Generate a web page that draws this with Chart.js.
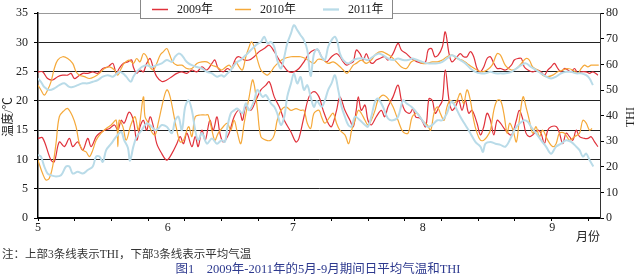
<!DOCTYPE html>
<html>
<head>
<meta charset="utf-8">
<script src="https://cdn.jsdelivr.net/npm/chart.js@4.4.1/dist/chart.umd.min.js"></script>
<style>
  html, body { margin: 0; padding: 0; background: #fff; }
  #wrap { width: 640px; height: 278px; }
</style>
</head>
<body>
<div id="wrap"><canvas id="myChart" width="640" height="278"></canvas></div>
<script>
// day index counted from 1 May, [day, value]
const monthStarts = [0, 31, 61, 92, 123];
const monthLabels = ['5', '6', '7', '8', '9'];
const yearLabels = ['2009年', '2010年', '2011年'];

const temp2009 = [[0,13.6],[1.1,13.7],[3.1,9.9],[3.9,9.6],[5.1,13.0],[6.3,12.2],[7.5,13.6],[8.3,12.2],[9.5,13.0],[10.7,11.6],[11.9,13.6],[12.7,12.2],[13.9,13.9],[14.7,14.5],[15.9,15.0],[17.1,15.3],[18.3,15.9],[19.1,15.0],[19.9,16.7],[20.6,16.2],[21.8,18.1],[22.8,16.7],[23.6,13.3],[24.4,15.6],[25.2,16.7],[26.0,15.0],[26.8,17.3],[27.6,15.6],[28.4,12.7],[29.6,11.0],[30.8,9.9],[32.0,11.0],[33.2,12.7],[34.0,13.9],[34.8,12.7],[35.6,14.5],[36.8,12.2],[37.6,13.9],[38.3,12.2],[39.2,15.0],[40.0,13.3],[41.1,16.7],[41.9,15.0],[42.8,17.3],[43.5,14.5],[44.3,13.0],[45.7,14.5],[46.9,17.3],[48.1,18.4],[48.9,16.7],[49.7,19.0],[50.9,18.4],[52.1,20.1],[53.3,21.9],[54.5,22.7],[55.3,23.3],[56.5,20.7],[57.7,19.0],[58.9,16.7],[60.5,14.7],[61.7,13.0],[62.4,13.6],[63.6,17.3],[64.8,20.7],[66.0,21.6],[67.2,20.7],[68.2,18.4],[69.4,16.2],[70.2,15.6],[71.4,18.4],[72.2,20.7],[73.4,18.4],[74.6,16.7],[75.4,15.6],[76.1,18.4],[76.6,20.7],[77.3,18.4],[78.2,19.3],[78.9,16.7],[79.7,15.9],[80.9,17.3],[82.1,18.4],[82.9,17.3],[83.7,19.0],[84.9,20.7],[86.1,22.7],[86.9,20.1],[87.7,18.4],[88.9,17.9],[89.7,18.7],[90.3,17.3],[91.5,17.0],[92.7,15.6],[93.5,20.4],[94.3,20.1],[95.0,17.9],[95.9,19.0],[96.7,20.1],[97.4,25.3],[98.3,20.1],[99.0,18.4],[99.8,19.0],[100.6,20.1],[101.4,18.4],[102.2,20.1],[103.0,17.9],[103.8,18.4],[105.0,16.2],[105.8,14.2],[106.6,15.6],[107.4,17.9],[108.2,16.7],[109.0,14.2],[109.8,16.7],[110.6,16.2],[111.8,15.0],[113.2,14.2],[114.4,16.7],[115.1,18.4],[116.0,16.7],[116.7,14.5],[117.5,13.9],[118.3,14.2],[119.5,15.0],[120.3,14.5],[121.1,12.7],[121.9,15.0],[122.7,15.6],[124.0,15.6],[124.7,14.5],[125.5,12.7],[126.3,14.5],[127.1,13.9],[127.9,13.3],[128.7,15.0],[129.5,13.9],[130.7,13.6],[131.5,13.6],[132.3,13.9],[133.1,13.0],[133.9,12.2]];

const temp2010 = [[0,9.9],[1.1,7.6],[1.9,6.5],[2.7,6.8],[3.5,8.8],[4.3,12.7],[5.1,17.3],[6.3,18.4],[7.1,18.7],[8.3,17.3],[9.1,15.6],[9.9,12.7],[10.7,11.6],[11.5,11.3],[12.3,10.5],[13.1,11.6],[13.9,13.3],[15.1,14.5],[16.3,15.3],[17.5,15.9],[18.7,16.7],[19.1,12.2],[19.4,16.7],[20.3,15.6],[21.1,13.3],[22.2,15.9],[23.2,17.3],[24.0,15.0],[25.2,20.7],[25.6,17.3],[26.4,16.2],[27.2,14.7],[28.0,14.2],[28.8,16.4],[29.6,19.0],[30.4,21.3],[30.9,21.9],[31.6,20.7],[32.4,17.9],[33.2,15.0],[34.0,13.0],[34.8,13.3],[36.0,15.6],[36.8,13.9],[37.6,17.3],[38.8,17.6],[40.0,17.6],[40.7,17.6],[41.6,15.0],[42.3,13.3],[43.1,14.5],[44.3,15.6],[45.3,16.2],[46.1,15.0],[46.9,16.7],[47.7,14.5],[48.5,12.7],[49.3,16.2],[50.5,20.7],[51.3,23.6],[51.8,22.4],[52.5,18.4],[53.3,13.9],[54.5,13.3],[55.7,13.3],[56.5,14.2],[57.2,16.7],[58.1,18.4],[59.3,19.0],[60.5,18.4],[61.7,18.7],[62.8,18.4],[63.6,18.4],[64.4,16.2],[65.2,15.3],[66.0,17.9],[67.2,18.4],[67.8,17.3],[68.6,16.2],[69.8,17.3],[70.6,17.9],[71.4,16.2],[72.2,15.0],[73.4,14.2],[74.3,12.7],[75.0,15.0],[75.8,16.7],[76.6,18.4],[77.3,17.9],[78.2,16.7],[78.9,15.9],[79.7,16.7],[80.6,18.4],[81.3,20.1],[82.5,21.0],[83.7,20.4],[84.9,19.0],[86.1,16.7],[87.3,14.7],[88.5,14.5],[89.5,17.3],[90.7,17.9],[91.9,16.7],[93.1,15.9],[93.9,15.0],[94.7,17.9],[95.5,19.0],[96.2,17.9],[97.1,16.7],[97.8,19.0],[98.6,20.1],[99.4,19.6],[100.2,20.1],[101.0,21.3],[101.8,19.6],[102.6,21.9],[103.4,20.1],[104.2,16.7],[105.0,14.5],[105.8,13.3],[106.6,13.3],[107.4,13.9],[108.2,15.0],[109.0,18.4],[109.8,20.1],[110.6,20.1],[111.4,17.9],[112.2,14.5],[112.8,16.2],[113.6,15.0],[114.4,13.0],[115.1,16.7],[116.0,20.7],[116.7,19.0],[117.5,16.7],[118.3,14.5],[119.1,15.6],[119.9,13.9],[120.7,15.0],[121.9,13.3],[123.1,12.2],[123.9,12.7],[124.7,14.5],[125.9,14.5],[127.1,13.3],[128.3,13.9],[129.5,14.5],[130.3,16.7],[131.1,16.2],[131.9,15.0],[132.5,15.3]];

const temp2011 = [[0,10.8],[0.7,10.5],[1.5,8.8],[2.3,7.6],[3.1,7.3],[4.3,7.1],[5.5,7.3],[6.7,8.8],[7.5,8.8],[8.3,7.6],[9.5,7.9],[10.7,7.6],[11.9,8.2],[13.1,8.8],[13.9,10.5],[14.7,10.5],[15.5,9.6],[16.3,11.6],[17.5,12.7],[18.7,13.9],[19.9,14.7],[20.6,13.3],[21.5,12.0],[22.0,9.8],[22.8,12.2],[23.6,13.9],[24.8,15.0],[26.0,16.2],[27.2,15.6],[28.0,15.0],[28.8,15.3],[29.6,15.9],[30.8,15.6],[32.0,14.5],[32.8,16.7],[33.6,17.3],[34.4,15.0],[35.2,19.0],[36.0,20.1],[36.8,18.4],[37.6,15.0],[38.3,13.3],[39.2,14.5],[40.4,12.7],[41.6,13.6],[42.8,12.7],[43.9,13.3],[44.7,13.0],[45.3,15.6],[46.1,17.9],[46.9,18.4],[47.7,18.7],[48.9,17.9],[49.7,19.6],[50.5,18.4],[51.7,20.1],[52.5,21.9],[53.7,20.7],[54.5,21.0],[55.7,19.6],[56.5,19.0],[57.2,17.9],[58.1,15.9],[58.9,17.3],[59.6,20.7],[60.5,23.0],[61.2,24.7],[62.0,23.0],[62.8,24.1],[63.6,21.9],[64.4,22.7],[65.2,20.7],[66.0,19.0],[66.7,20.0],[67.8,19.0],[68.6,20.1],[69.4,21.9],[70.2,23.0],[71.0,24.4],[71.8,21.9],[72.6,19.0],[73.4,17.3],[74.2,15.9],[75.0,15.6],[75.8,17.3],[77.0,16.7],[78.2,15.9],[78.9,15.6],[79.7,17.3],[80.6,19.9],[81.3,20.4],[82.5,19.0],[83.7,17.0],[84.9,16.7],[86.1,17.3],[87.3,20.1],[88.1,19.6],[89.3,19.0],[90.7,17.9],[91.9,16.7],[93.1,15.6],[94.3,15.9],[95.5,16.7],[96.7,16.7],[97.8,17.9],[98.9,19.9],[99.8,19.0],[101.0,17.3],[102.2,15.9],[103.4,14.5],[104.6,13.0],[105.8,12.2],[106.4,11.3],[107.0,12.7],[108.2,13.0],[109.4,12.7],[110.6,12.5],[111.8,12.2],[113.2,13.9],[113.9,15.0],[114.8,15.9],[115.6,16.4],[116.3,16.7],[117.2,16.4],[117.9,15.6],[119.1,14.5],[120.3,13.3],[121.5,12.2],[122.7,11.0],[123.9,12.2],[125.1,12.7],[126.3,13.3],[127.5,13.0],[128.7,12.2],[129.5,11.6],[130.3,10.5],[131.1,11.0],[131.9,9.9],[132.8,8.8]];

const thi2009 = [[0,57.1],[1.1,57.1],[2.3,54.5],[3.5,53.9],[4.7,55.2],[5.9,55.8],[7.1,55.8],[7.9,56.5],[8.7,54.5],[9.5,55.2],[10.7,56.5],[11.9,56.5],[13.1,57.1],[14.3,56.5],[15.5,58.4],[16.7,59.0],[17.9,60.4],[18.7,56.5],[19.4,58.4],[20.4,60.4],[21.5,61.0],[22.4,61.7],[22.8,59.0],[23.6,56.5],[24.4,57.8],[25.2,57.1],[26.0,60.4],[26.8,62.3],[27.6,58.4],[28.4,55.2],[29.6,53.3],[30.8,53.9],[32.0,55.2],[33.2,56.5],[34.4,57.1],[35.6,56.5],[36.8,57.8],[38.0,57.1],[39.2,59.0],[40.4,57.8],[41.6,60.4],[42.3,61.7],[43.1,58.4],[44.3,57.1],[45.3,58.4],[46.1,57.8],[47.3,62.3],[48.1,63.0],[49.3,61.7],[50.5,61.7],[51.7,63.0],[52.9,65.0],[54.1,66.2],[55.3,67.5],[56.5,65.0],[57.7,61.7],[58.9,59.0],[60.0,57.1],[61.2,57.1],[62.4,58.4],[63.6,61.0],[64.8,64.2],[66.0,65.6],[67.0,65.6],[67.8,63.0],[69.0,61.0],[70.2,63.0],[71.4,64.2],[72.2,63.0],[73.0,61.0],[73.8,59.7],[74.6,60.4],[75.4,61.0],[76.1,65.6],[77.0,64.2],[77.8,61.7],[78.5,64.2],[79.4,61.0],[80.1,60.4],[80.9,61.7],[81.7,62.3],[82.9,63.0],[83.7,61.7],[84.9,64.2],[86.1,68.2],[86.9,65.6],[88.1,64.2],[89.3,62.3],[90.7,61.0],[91.9,60.4],[92.7,61.0],[93.3,65.6],[94.1,66.2],[94.9,63.0],[95.7,63.6],[96.7,66.9],[97.4,72.7],[98.3,64.2],[99.0,61.0],[100.2,63.0],[101.0,64.2],[101.8,63.0],[102.6,63.0],[103.4,65.0],[104.2,63.0],[105.0,58.4],[105.8,57.1],[106.6,59.0],[107.4,62.3],[108.2,63.0],[109.0,60.4],[109.8,58.4],[110.6,58.4],[111.8,57.8],[113.2,59.7],[113.9,61.7],[114.8,62.3],[115.6,62.3],[116.3,59.0],[117.2,57.8],[118.3,57.1],[119.5,57.8],[120.3,57.1],[121.1,55.8],[121.9,57.8],[122.7,59.0],[123.5,60.4],[124.3,58.4],[125.1,57.1],[125.9,58.4],[126.7,57.8],[127.5,57.1],[128.3,58.4],[129.1,56.5],[129.9,57.1],[131.1,57.1],[131.9,56.5],[132.7,57.1],[133.9,55.8]];

const thi2010 = [[0,51.9],[0.7,50.0],[1.5,48.0],[2.3,50.0],[3.1,53.2],[3.9,58.4],[4.7,61.7],[5.9,63.0],[7.1,62.3],[8.3,60.4],[9.1,57.1],[9.9,55.8],[11.1,55.2],[12.3,54.5],[13.5,55.2],[14.7,56.5],[15.9,58.4],[17.1,59.0],[18.3,57.8],[19.1,55.8],[19.9,58.4],[20.6,60.4],[21.8,61.7],[22.8,60.4],[23.6,62.3],[24.4,61.0],[25.2,64.2],[26.0,63.0],[26.8,59.0],[27.6,57.8],[28.4,60.4],[29.2,63.6],[30.0,65.0],[30.8,66.2],[31.4,64.2],[32.2,61.0],[33.2,59.7],[34.4,59.7],[35.6,58.4],[36.8,58.4],[38.0,60.4],[39.2,61.0],[40.4,61.0],[41.6,59.7],[42.8,59.0],[43.9,57.8],[44.5,58.4],[45.7,59.7],[46.5,58.4],[47.3,61.0],[48.1,59.0],[48.9,57.8],[49.7,63.0],[50.5,66.9],[51.0,68.8],[51.7,66.9],[52.5,61.7],[53.3,57.8],[54.1,56.5],[54.9,55.8],[55.7,57.1],[56.5,59.0],[57.7,61.0],[58.9,62.3],[60.5,63.0],[61.7,63.0],[62.8,63.0],[64.0,62.3],[65.2,61.0],[66.0,60.4],[67.0,62.0],[68.2,61.7],[69.4,60.4],[70.6,61.0],[71.8,59.7],[73.0,57.8],[73.8,56.5],[74.6,57.8],[75.4,59.7],[76.1,60.4],[77.3,61.7],[78.5,60.4],[79.7,61.7],[80.9,64.2],[82.1,65.0],[83.3,64.2],[84.5,63.0],[85.7,61.0],[86.9,59.0],[88.1,58.4],[89.3,61.0],[90.7,61.7],[91.9,60.4],[93.1,60.4],[94.3,61.0],[95.5,61.0],[96.7,61.7],[97.8,63.0],[99.0,63.6],[100.2,62.3],[101.4,61.7],[102.6,60.4],[103.8,59.0],[105.0,57.8],[106.2,57.1],[107.4,57.8],[108.6,59.7],[109.8,64.2],[110.6,63.6],[111.8,59.5],[113.2,57.8],[114.4,58.4],[115.6,60.4],[116.7,62.3],[117.5,61.7],[118.3,59.0],[119.5,57.8],[120.7,55.8],[121.9,55.2],[123.1,55.8],[124.3,57.1],[125.5,57.8],[126.7,58.4],[127.9,57.8],[129.1,56.5],[129.9,58.4],[130.7,59.7],[131.5,59.0],[132.3,59.7],[133.1,59.7],[134.1,59.7]];

const thi2011 = [[0,54.5],[0.7,53.2],[1.5,51.2],[2.7,50.0],[3.9,50.6],[5.1,51.9],[6.3,52.6],[7.5,51.2],[8.3,51.2],[9.5,51.9],[10.7,52.6],[11.9,52.6],[13.1,53.2],[14.3,53.9],[15.5,55.2],[16.7,55.8],[17.9,55.2],[19.4,57.1],[20.3,56.5],[21.1,55.2],[22.2,53.2],[22.8,55.2],[23.6,57.1],[24.8,59.0],[26.0,59.7],[27.2,59.0],[28.4,59.7],[29.6,60.4],[30.8,61.7],[32.0,61.0],[32.8,63.0],[33.6,64.2],[34.4,63.6],[35.2,61.7],[36.0,60.4],[36.8,59.7],[38.0,59.0],[39.2,58.4],[40.4,57.1],[41.6,56.5],[42.8,55.2],[43.9,55.8],[44.5,55.2],[45.3,56.5],[46.1,57.8],[46.9,59.7],[47.7,61.0],[48.5,61.7],[49.3,63.0],[50.1,64.2],[50.9,65.6],[52.1,67.5],[53.3,68.8],[54.1,70.8],[54.9,68.2],[55.7,68.8],[56.5,66.9],[57.2,61.7],[58.1,58.4],[58.9,63.0],[59.6,68.2],[60.5,72.1],[61.2,75.3],[62.0,73.4],[62.8,71.4],[63.6,69.5],[64.4,65.6],[65.2,55.5],[66.0,64.2],[66.8,66.0],[67.8,63.0],[68.6,61.7],[69.4,66.9],[70.2,69.5],[71.0,70.8],[71.6,68.8],[72.2,64.2],[73.0,61.7],[74.2,60.4],[75.4,61.7],[76.6,62.3],[77.8,62.3],[78.9,61.7],[80.1,63.0],[81.3,64.2],[82.5,63.6],[83.7,62.3],[84.9,61.7],[86.1,62.3],[87.3,61.7],[88.5,61.7],[89.5,62.3],[90.7,61.7],[91.9,61.0],[93.1,60.4],[94.3,60.4],[95.5,60.4],[96.7,61.0],[97.8,62.3],[98.9,63.6],[99.8,63.0],[101.0,61.7],[102.2,60.4],[103.4,58.4],[104.6,57.1],[105.8,56.5],[107.0,56.5],[108.2,57.1],[109.4,56.5],[110.6,56.5],[111.8,56.5],[113.2,57.1],[114.4,58.4],[115.6,59.7],[116.7,60.4],[117.9,59.0],[119.1,57.8],[120.3,56.5],[121.5,55.2],[122.7,54.5],[123.9,55.2],[125.1,56.5],[126.3,57.1],[127.5,57.1],[128.7,56.5],[129.9,56.5],[131.1,55.8],[131.9,54.5],[132.7,51.9]];

const colors = ['#e0313b', '#f5a93a', '#b9dbe8'];
const widths = [1.2, 1.2, 2];
const serif = "'Liberation Serif', 'Noto Sans CJK SC', serif";

function line(data, i, axis) {
    return {
        label: yearLabels[i],
        data: data.map(p => ({x: p[0], y: p[1]})),
        yAxisID: axis,
        borderColor: colors[i],
        backgroundColor: colors[i],
        borderWidth: widths[i],
        pointRadius: 0,
        tension: 0.35,
        order: 3 - i
    };
}

const textPlugin = {
    id: 'texts',
    afterDraw(chart) {
        const c = chart.ctx;
        const xs = chart.scales.x;
        c.save();
        c.fillStyle = '#222';
        c.textBaseline = 'middle';
        // month labels
        c.font = '12px ' + serif;
        c.textAlign = 'center';
        monthStarts.forEach((d, i) => c.fillText(monthLabels[i], xs.getPixelForValue(d), 228));
        c.fillText('月份', 588, 238);
        // axis titles
        c.save();
        c.translate(9, 117);
        c.rotate(-Math.PI / 2);
        c.fillText('温度/℃', 0, 0);
        c.restore();
        c.save();
        c.translate(631, 117);
        c.rotate(-Math.PI / 2);
        c.fillText('THI', 0, 0);
        c.restore();
        // legend box
        c.fillStyle = '#fff';
        c.fillRect(140.5, -1, 252, 19.5);
        c.strokeStyle = '#888';
        c.lineWidth = 1;
        c.strokeRect(140.5, -1, 252, 19.5);
        const lx = [152, 235, 323];
        c.textAlign = 'left';
        yearLabels.forEach((t, i) => {
            c.strokeStyle = colors[i];
            c.lineWidth = widths[i] + 0.3;
            c.beginPath();
            c.moveTo(lx[i], 9.5);
            c.lineTo(lx[i] + 16, 9.5);
            c.stroke();
            c.fillStyle = '#222';
            c.fillText(t, lx[i] + 25, 9.5);
        });
        // notes
        c.font = '11.5px ' + serif;
        c.fillStyle = '#333';
        c.fillText('注：上部3条线表示THI，下部3条线表示平均气温', 2, 255);
        c.font = '12.5px ' + serif;
        c.fillStyle = '#2e3a8f';
        c.textAlign = 'center';
        c.fillText('图1\u30002009年-2011年的5月-9月期间日平均气温和THI', 318, 270);
        c.restore();
    }
};

const xTickStep = 8.77;

const myChart = new Chart(document.getElementById('myChart').getContext('2d'), {
    type: 'line',
    data: {
        datasets: [
            line(temp2009, 0, 'y'), line(temp2010, 1, 'y'), line(temp2011, 2, 'y'),
            line(thi2009, 0, 'y2'), line(thi2010, 1, 'y2'), line(thi2011, 2, 'y2')
        ]
    },
    options: {
        responsive: false,
        animation: false,
        layout: {padding: {top: 13, left: 0, right: 0, bottom: 0}},
        plugins: {legend: {display: false}, tooltip: {enabled: false}},
        scales: {
            x: {
                type: 'linear',
                min: 0,
                max: 134.4,
                afterBuildTicks(s) {
                    const t = [];
                    for (let v = 0; v < 134; v += xTickStep) t.push({value: v});
                    s.ticks = t;
                },
                afterFit(s) { s.height = 60; },
                ticks: {display: false},
                grid: {drawOnChartArea: false, tickLength: 3, tickColor: '#000'},
                border: {color: '#000', width: 2}
            },
            y: {
                position: 'left',
                min: 0,
                max: 35,
                afterFit(s) { s.width = 38; },
                ticks: {stepSize: 5, padding: 6, color: '#222', font: {family: serif, size: 12}},
                grid: {
                    color: ctx => ctx.tick && ctx.tick.value === 35 ? '#999' : '#222',
                    lineWidth: 1,
                    tickLength: 4,
                    tickColor: '#000'
                },
                border: {color: '#000', width: 1.5}
            },
            y2: {
                position: 'right',
                min: 0,
                max: 80,
                afterFit(s) { s.width = 40; },
                ticks: {stepSize: 10, padding: 2, color: '#222', font: {family: serif, size: 12}},
                grid: {drawOnChartArea: false, tickLength: 4, tickColor: '#000'},
                border: {color: '#333', width: 1}
            }
        }
    },
    plugins: [textPlugin]
});
</script>
</body>
</html>
